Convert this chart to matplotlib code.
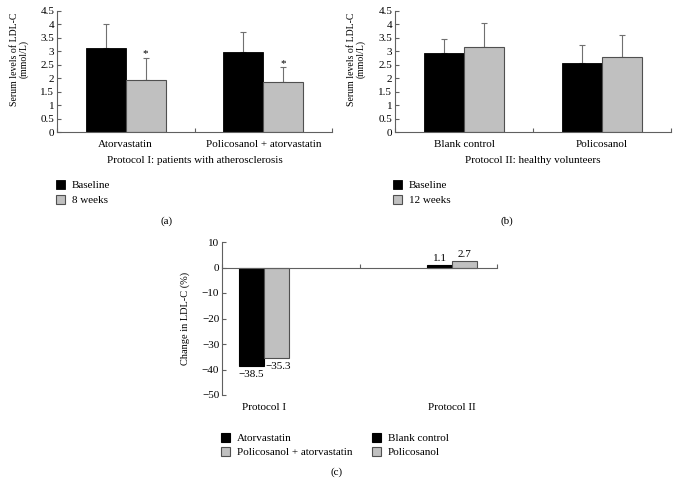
import matplotlib
matplotlib.use("Agg")
import matplotlib.pyplot as plt
import numpy as np

plt.rcParams['font.family'] = ['Liberation Serif', 'DejaVu Serif']
plt.rcParams['axes.unicode_minus'] = True

# ---- data ----
a_categories = ["Atorvastatin", "Policosanol + atorvastatin"]
a_baseline = [3.12, 2.97]
a_baseline_err = [0.88, 0.76]
a_week8 = [1.95, 1.87]
a_week8_err = [0.82, 0.55]
a_legend = ["Baseline", "8 weeks"]
a_caption = "Protocol I: patients with atherosclerosis"

b_categories = ["Blank control", "Policosanol"]
b_baseline = [2.95, 2.58]
b_baseline_err = [0.50, 0.65]
b_week12 = [3.15, 2.79]
b_week12_err = [0.90, 0.81]
b_legend = ["Baseline", "12 weeks"]
b_caption = "Protocol II: healthy volunteers"

y_ticks_ab = [0, 0.5, 1, 1.5, 2, 2.5, 3, 3.5, 4, 4.5]
y_ticklabels_ab = ["0", "0.5", "1", "1.5", "2", "2.5", "3", "3.5", "4", "4.5"]

c_protocols = ["Protocol I", "Protocol II"]
c_series_names = ["Atorvastatin", "Policosanol + atorvastatin", "Blank control", "Policosanol"]
c_values = [-38.5, -35.3, 1.1, 2.7]
c_value_labels = ["\u221238.5", "\u221235.3", "1.1", "2.7"]
c_y_ticks = [10, 0, -10, -20, -30, -40, -50]

BLACK = "#000000"
GRAY = "#c0c0c0"
EDGE_GRAY = "#505050"
AXC = "#606060"
FS = 8
YFS = 7

W, H = 678, 484
fig = plt.figure(figsize=(W / 100, H / 100), dpi=100)


def frac(left, right, top, bottom):
    return [left / W, 1 - bottom / H, (right - left) / W, (bottom - top) / H]


def panel_ab(rect, cats, v1, e1, v2, e2, legend_labels, caption, stars, leg_x, letter, letter_x):
    ax = fig.add_axes(rect)
    x = np.arange(len(cats))
    bw = 0.29
    ax.bar(x - bw / 2, v1, bw, color=BLACK, edgecolor=BLACK, linewidth=0.6, label=legend_labels[0], zorder=2)
    ax.bar(x + bw / 2, v2, bw, color=GRAY, edgecolor=EDGE_GRAY, linewidth=0.8, label=legend_labels[1], zorder=2)
    ax.errorbar(x - bw / 2, v1, yerr=[np.zeros(len(v1)), e1], fmt='none', ecolor="#707070",
                elinewidth=0.8, capsize=2.5, capthick=0.8, zorder=1)
    ax.errorbar(x + bw / 2, v2, yerr=[np.zeros(len(v2)), e2], fmt='none', ecolor="#707070",
                elinewidth=0.8, capsize=2.5, capthick=0.8, zorder=1)
    if stars:
        for xi, vi, ei in zip(x, v2, e2):
            ax.annotate("*", xy=(xi + bw / 2, vi + ei), xytext=(0, -1), textcoords='offset pixels',
                        ha='center', va='bottom', fontsize=FS)
    ax.set_xlim(-0.5, len(cats) - 0.5)
    ax.set_ylim(0, 4.5)
    ax.set_yticks(y_ticks_ab)
    ax.set_yticklabels(y_ticklabels_ab, fontsize=FS)
    ax.set_xticks(np.arange(-0.5, len(cats), 1.0))
    ax.set_xticklabels([])
    ax.set_xticks(x, minor=True)
    ax.set_xticklabels(cats, minor=True, fontsize=FS)
    ax.tick_params(axis='x', which='major', direction='in', length=3, color=AXC, width=0.8)
    ax.tick_params(axis='x', which='minor', length=0, pad=6)
    ax.tick_params(axis='y', direction='in', length=3, color=AXC, width=0.8, pad=2)
    for s in ['top', 'right']:
        ax.spines[s].set_visible(False)
    for s in ['left', 'bottom']:
        ax.spines[s].set_color(AXC)
        ax.spines[s].set_linewidth(0.8)
    ax.set_xlabel(caption, fontsize=FS, labelpad=5)
    ax.set_ylabel("Serum levels of LDL-C\n(mmol/L)", fontsize=YFS, linespacing=1.0)
    ax.yaxis.set_label_coords(-0.105, 0.6)
    h, l = ax.get_legend_handles_labels()
    fig.legend(h, l, loc='upper left', bbox_to_anchor=(leg_x / W, 1 - 180 / H),
               frameon=False, fontsize=FS, handlelength=0.85, handleheight=0.85,
               handletextpad=0.6, labelspacing=0.4, borderaxespad=0, borderpad=0)
    fig.text(letter_x / W, 1 - 221 / H, letter, ha='center', va='center', fontsize=FS)
    return ax


panel_ab(frac(57, 332, 11, 132), a_categories, a_baseline, a_baseline_err, a_week8, a_week8_err,
         a_legend, a_caption, True, 56, "(a)", 167)
panel_ab(frac(395, 671, 11, 132), b_categories, b_baseline, b_baseline_err, b_week12, b_week12_err,
         b_legend, b_caption, False, 393, "(b)", 507)

# ---- panel c ----
axc = fig.add_axes(frac(222, 497, 242, 395))
pos = np.arange(len(c_protocols))
bw = 0.133
colors = [BLACK, GRAY, BLACK, GRAY]
edges = [BLACK, EDGE_GRAY, BLACK, EDGE_GRAY]
xs = [pos[0] - bw / 2, pos[0] + bw / 2, pos[1] - bw / 2, pos[1] + bw / 2]
for xi, vi, name, c, e in zip(xs, c_values, c_series_names, colors, edges):
    axc.bar(xi, vi, bw, color=c, edgecolor=e, linewidth=0.8, label=name, zorder=2)
for xi, vi, txt in zip(xs, c_values, c_value_labels):
    if vi < 0:
        axc.annotate(txt, xy=(xi, vi), xytext=(2 if xi > 0 else 0, -4), textcoords='offset pixels',
                     ha='center', va='top', fontsize=FS)
    else:
        axc.annotate(txt, xy=(xi, vi), xytext=(0, 2), textcoords='offset pixels',
                     ha='center', va='bottom', fontsize=FS)
xl = (-0.223, 1.239)
axc.set_xlim(*xl)
axc.set_ylim(-50, 10)
axc.set_yticks(c_y_ticks)
axc.set_yticklabels([str(t).replace('-', '\u2212') for t in c_y_ticks], fontsize=FS)
axc.set_xticks([xl[0], (xl[0] + xl[1]) / 2, xl[1]])
axc.set_xticklabels([])
axc.tick_params(axis='x', direction='in', length=3, color=AXC, width=0.8)
axc.tick_params(axis='y', direction='in', length=3, color=AXC, width=0.8, pad=2)
axc.spines['bottom'].set_position(('data', 0))
for s in ['top', 'right']:
    axc.spines[s].set_visible(False)
for s in ['left', 'bottom']:
    axc.spines[s].set_color(AXC)
    axc.spines[s].set_linewidth(0.8)
axc.set_ylabel("Change in LDL-C (%)", fontsize=7.5)
axc.yaxis.set_label_coords(-0.116, 0.5)
for p, name in zip(pos, c_protocols):
    axc.annotate(name, xy=(p, 0), xycoords=('data', 'axes fraction'), xytext=(0, -12),
                 textcoords='offset pixels', ha='center', va='center', fontsize=FS)
h, l = axc.get_legend_handles_labels()
fig.legend(h, l, loc='upper left', ncol=2, bbox_to_anchor=(221 / W, 1 - 433 / H),
           frameon=False, fontsize=FS, handlelength=0.85, handleheight=0.85,
           handletextpad=0.6, labelspacing=0.35, columnspacing=1.7, borderaxespad=0, borderpad=0)
fig.text(337 / W, 1 - 472 / H, "(c)", ha='center', va='center', fontsize=FS)

fig.savefig("out.png", dpi=100)
